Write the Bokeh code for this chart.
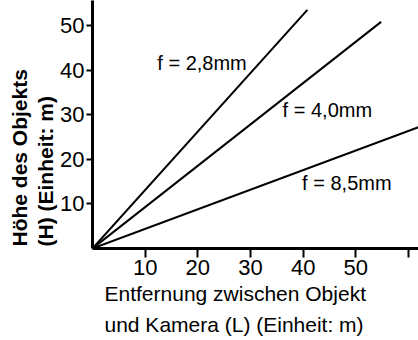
from bokeh.plotting import figure
from bokeh.models import Label, Range1d, FixedTicker, Title
from bokeh.embed import file_html
from bokeh.resources import INLINE

# --- data ---
lens_labels = ["f = 2,8mm", "f = 4,0mm", "f = 8,5mm"]
line_L = [[0, 40.8], [0, 54.8], [0, 61.9]]     # distance (m)
line_H = [[0, 53.5], [0, 50.8], [0, 27.2]]     # height (m)
label_pos_L = [12.3, 36.1, 39.8]
label_pos_H = [41.6, 31.0, 14.6]
x_ticks = [10, 20, 30, 40, 50, 60]
x_tick_labels = {10: "10", 20: "20", 30: "30", 40: "40", 50: "50", 60: ""}
y_ticks = [10, 20, 30, 40, 50]
x_title = ["Entfernung zwischen Objekt", "und Kamera (L) (Einheit: m)"]
y_title = ["Höhe des Objekts", "(H) (Einheit: m)"]

FONT = "Liberation Sans"

p = figure(width=418, height=340, output_backend="svg", toolbar_location=None,
           x_range=Range1d(0, 61.9), y_range=Range1d(0, 55.6),
           min_border_left=92, min_border_right=0, min_border_top=0,
           min_border_bottom=92)
p.outline_line_color = None
p.grid.visible = False
p.background_fill_color = "white"
p.border_fill_color = "white"

for xs, ys in zip(line_L, line_H):
    p.line(xs, ys, line_color="black", line_width=2)

for txt, lx, ly in zip(lens_labels, label_pos_L, label_pos_H):
    p.add_layout(Label(x=lx, y=ly, text=txt, text_font=FONT, text_font_size="20px",
                       text_align="left", text_baseline="middle", text_color="black"))

xa = p.xaxis[0]
xa.ticker = FixedTicker(ticks=x_ticks)
xa.major_label_overrides = x_tick_labels
xa.axis_line_width = 3
xa.axis_line_color = "black"
xa.major_tick_in = 0
xa.major_tick_out = 9
xa.major_tick_line_width = 2
xa.minor_tick_line_color = None
xa.major_label_text_font = FONT
xa.major_label_text_font_size = "22px"
xa.major_label_text_color = "black"
xa.major_label_standoff = 2

ya = p.yaxis[0]
ya.ticker = FixedTicker(ticks=y_ticks)
ya.axis_line_width = 3
ya.axis_line_color = "black"
ya.major_tick_in = 0
ya.major_tick_out = 6
ya.major_tick_line_width = 2
ya.minor_tick_line_color = None
ya.major_label_text_font = FONT
ya.major_label_text_font_size = "22px"
ya.major_label_text_color = "black"
ya.major_label_standoff = 2

# axis titles as two stacked titles per side
for t, so in zip(x_title, [5, 6]):
    p.add_layout(Title(text=t, align="left", offset=12, standoff=so,
                       text_font=FONT, text_font_size="21px",
                       text_font_style="normal", text_color="black"), "below")
for t in reversed(y_title):
    p.add_layout(Title(text=t, align="left", offset=2, standoff=1,
                       text_font=FONT, text_font_size="21px",
                       text_font_style="bold", text_color="black"), "left")

open("out.html", "w").write(file_html(p, INLINE))
